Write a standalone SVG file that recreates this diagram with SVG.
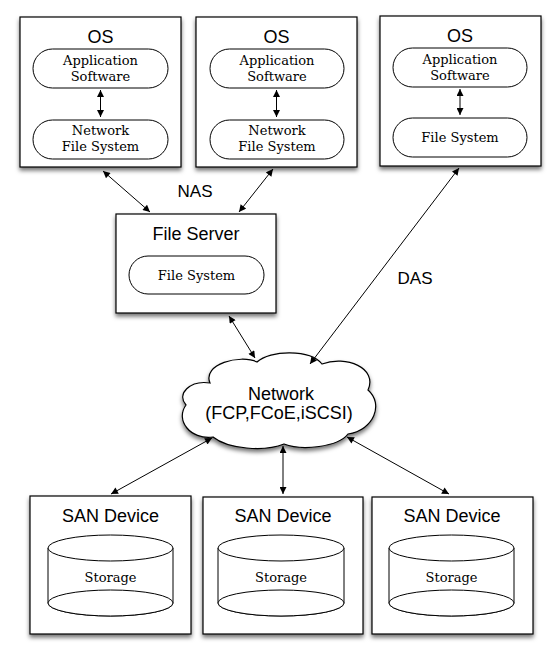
<svg xmlns="http://www.w3.org/2000/svg" width="560" height="659" viewBox="0 0 560 659">
<style>
.box{fill:#fff;stroke:#000;stroke-width:1.2;filter:url(#sh)}
.pill{fill:#fff;stroke:#000;stroke-width:1}
.cyl{fill:#fff;stroke:#000;stroke-width:1}
.h{font-family:"Liberation Sans",Arial,sans-serif;font-size:18px;text-anchor:middle;fill:#000}
.lbl{font-family:"Liberation Sans",Arial,sans-serif;font-size:17px;text-anchor:middle;fill:#000}
.s{font-family:"DejaVu Serif",serif;font-size:13px;text-anchor:middle;fill:#000}
.c{fill:none;stroke:#000;stroke-width:1;marker-start:url(#ah);marker-end:url(#ah)}
</style>
<defs>
<filter id="sh" x="-10%" y="-10%" width="120%" height="125%">
<feDropShadow dx="0" dy="3" stdDeviation="2" flood-color="#000" flood-opacity="0.55"/>
</filter>
<marker id="ah" viewBox="0 0 10 10" refX="10" refY="5" markerWidth="9" markerHeight="7" markerUnits="userSpaceOnUse" orient="auto-start-reverse">
<path d="M0,0 L10,5 L0,10 Z" fill="#000"/>
</marker>
</defs>
<rect width="560" height="659" fill="#fff"/>

<g id="os1">
<rect class="box" x="20" y="17" width="161" height="150"/>
<text class="h" x="100.5" y="43">OS</text>
<rect class="pill" x="33" y="49" width="135" height="39" rx="19.5"/>
<text class="s" x="100.5" y="65">Application</text>
<text class="s" x="100.5" y="81">Software</text>
<rect class="pill" x="33" y="120" width="135" height="39" rx="19.5"/>
<text class="s" x="100.5" y="135">Network</text>
<text class="s" x="100.5" y="151">File System</text>
</g>

<g id="os2">
<rect class="box" x="196" y="17" width="161" height="150"/>
<text class="h" x="276.5" y="43">OS</text>
<rect class="pill" x="210" y="49" width="134" height="39" rx="19.5"/>
<text class="s" x="277" y="65">Application</text>
<text class="s" x="277" y="81">Software</text>
<rect class="pill" x="210" y="120" width="134" height="39" rx="19.5"/>
<text class="s" x="277" y="135">Network</text>
<text class="s" x="277" y="151">File System</text>
</g>

<g id="os3">
<rect class="box" x="380" y="16" width="161" height="150"/>
<text class="h" x="460" y="42">OS</text>
<rect class="pill" x="393" y="48" width="134" height="39" rx="19.5"/>
<text class="s" x="460" y="64">Application</text>
<text class="s" x="460" y="80">Software</text>
<rect class="pill" x="393" y="118" width="134" height="39" rx="19.5"/>
<text class="s" x="460" y="142">File System</text>
</g>

<g id="fileserver">
<rect class="box" x="116" y="214" width="160" height="99"/>
<text class="h" x="196" y="240">File Server</text>
<rect class="pill" x="129" y="256" width="135" height="38" rx="19"/>
<text class="s" x="196.5" y="280">File System</text>
</g>

<g id="nas"><text class="lbl" x="195" y="197">NAS</text></g>
<g id="das"><text class="lbl" x="415" y="284">DAS</text></g>

<g id="network">
<path d="M210,383 C202,364 240,354 257,362 C270,350 310,349 322,364 C346,355 378,368 368,390 C384,404 374,430 348,434 C338,447 302,451 284,444 C264,452 228,449 213,437 C190,440 175,420 186,405 C176,394 190,380 210,383 Z" fill="#fff" stroke="#000" stroke-width="1.2" filter="url(#sh)"/>
<text class="h" x="281" y="400" font-size="17">Network</text>
<text class="h" x="279" y="419" font-size="15">(FCP,FCoE,iSCSI)</text>
</g>

<g id="san1">
<rect class="box" x="30" y="496" width="161" height="138"/>
<text class="h" x="110.5" y="522">SAN Device</text>
<path class="cyl" d="M48,548 L48,603 A62.5,13 0 0 0 173,603 L173,548"/>
<ellipse class="cyl" cx="110.5" cy="548" rx="62.5" ry="13"/>
<ellipse class="cyl" cx="110.5" cy="603" rx="62.5" ry="13"/>
<text class="s" x="110.5" y="582">Storage</text>
</g>

<g id="san2">
<rect class="box" x="203" y="497" width="160" height="137"/>
<text class="h" x="283" y="522">SAN Device</text>
<path class="cyl" d="M218,548 L218,603 A63,13 0 0 0 344,603 L344,548"/>
<ellipse class="cyl" cx="281" cy="548" rx="63" ry="13"/>
<ellipse class="cyl" cx="281" cy="603" rx="63" ry="13"/>
<text class="s" x="281" y="582">Storage</text>
</g>

<g id="san3">
<rect class="box" x="372" y="497" width="161" height="137"/>
<text class="h" x="452" y="522">SAN Device</text>
<path class="cyl" d="M389,548 L389,603 A62.5,13 0 0 0 514,603 L514,548"/>
<ellipse class="cyl" cx="451.5" cy="548" rx="62.5" ry="13"/>
<ellipse class="cyl" cx="451.5" cy="603" rx="62.5" ry="13"/>
<text class="s" x="451.5" y="582">Storage</text>
</g>

<g id="connectors">
<line class="c" x1="103" y1="171" x2="150" y2="212"/>
<line class="c" x1="273" y1="169" x2="239" y2="212"/>
<line class="c" x1="459" y1="168" x2="310" y2="364"/>
<line class="c" x1="229" y1="316" x2="255" y2="358"/>
<line class="c" x1="212" y1="438" x2="111" y2="494"/>
<line class="c" x1="283" y1="446" x2="283" y2="494"/>
<line class="c" x1="347" y1="437" x2="449" y2="494"/>
<line class="c" x1="100.5" y1="90" x2="100.5" y2="117"/>
<line class="c" x1="276.5" y1="90" x2="276.5" y2="117"/>
<line class="c" x1="460" y1="89" x2="460" y2="115"/>
</g>
</svg>
